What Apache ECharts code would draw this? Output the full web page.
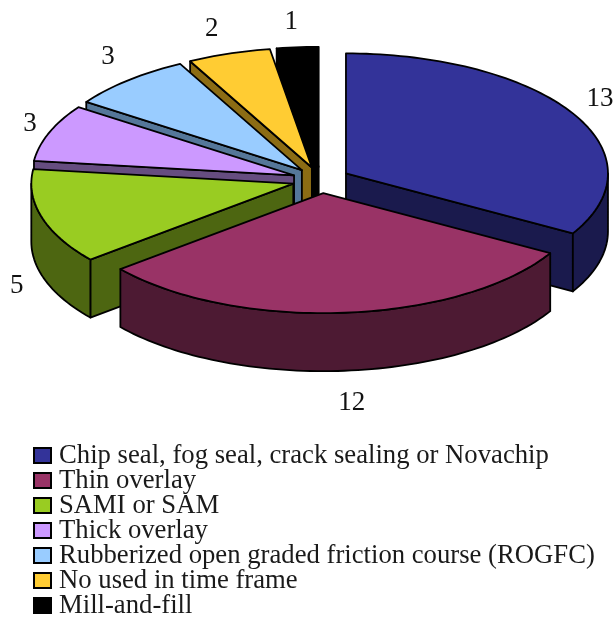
<!DOCTYPE html>
<html>
<head>
<meta charset="utf-8">
<style>html,body{margin:0;padding:0;background:#fff}#c{width:616px;height:619px;filter:blur(0.5px)}</style>
<script src="https://cdn.jsdelivr.net/npm/echarts@6/dist/echarts.min.js"></script>
</head>
<body>
<div id="c"></div>
<script>
const categories = [
  'Chip seal, fog seal, crack sealing or Novachip',
  'Thin overlay',
  'SAMI or SAM',
  'Thick overlay',
  'Rubberized open graded friction course (ROGFC)',
  'No used in time frame',
  'Mill-and-fill'
];
const values = [13, 12, 5, 3, 3, 2, 1];
const topColors = ['#333399', '#993366', '#99CC22', '#CC99FF', '#99CCFF', '#FFCC33', '#000000'];
const sideColors = ['#1A1A4D', '#4D1A33', '#4D6611', '#664D80', '#557799', '#8C6C14', '#000000'];

// 3D projection settings
const CX = 321, CY = 180, RX = 262, RY = 120, DEPTH = 58, EXPLODE = 0.11;
const LABEL_GAP_X = 29, LABEL_GAP_Y = 28, LABEL_SHIFT_Y = 2;
// small per-label layout adjustments, applied after the projected position
const LABEL_NUDGE = [[2, -2], [5, 2], [3, 1], [8, -1], [-1, -4], [-8, 0], [-4, 1]];
const FONT = '"Liberation Serif", "Times New Roman", serif';
const rad = d => d * Math.PI / 180;
const total = values.reduce((a, b) => a + b, 0);

let acc = 0;
const slices = values.map((v, i) => {
  const a0 = acc / total * 360;
  acc += v;
  const a1 = acc / total * 360;
  const mid = rad((a0 + a1) / 2);
  return {
    i, v, a0, a1, mid,
    ax: CX + RX * EXPLODE * Math.sin(mid),
    ay: CY - RY * EXPLODE * Math.cos(mid)
  };
});
const order = slices.slice().sort((p, q) => p.ay - q.ay).map(s => s.i);

function arc(s, from, to, dy) {
  const n = Math.max(2, Math.ceil((to - from) / 1.5));
  const pts = [];
  for (let k = 0; k <= n; k++) {
    const t = rad(from + (to - from) * k / n);
    pts.push([s.ax + RX * Math.sin(t), s.ay - RY * Math.cos(t) + dy]);
  }
  return pts;
}
function poly(points, fill) {
  return {
    type: 'polygon',
    shape: { points },
    style: { fill, stroke: '#000', lineWidth: 1.8, lineJoin: 'round' },
    silent: true
  };
}
function face(s, angle, fill) {
  const t = rad(angle);
  const ex = s.ax + RX * Math.sin(t), ey = s.ay - RY * Math.cos(t);
  return poly([[s.ax, s.ay], [ex, ey], [ex, ey + DEPTH], [s.ax, s.ay + DEPTH]], fill);
}
function sliceGraphic(s) {
  const side = sideColors[s.i], kids = [];
  if (Math.sin(rad(s.a0)) < -1e-6) kids.push(face(s, s.a0, side));
  if (Math.sin(rad(s.a1)) > 1e-6) kids.push(face(s, s.a1, side));
  const r0 = Math.max(s.a0, 90), r1 = Math.min(s.a1, 270);
  if (r1 > r0) {
    kids.push(poly(arc(s, r0, r1, 0).concat(arc(s, r0, r1, DEPTH).reverse()), side));
  }
  kids.push(poly([[s.ax, s.ay]].concat(arc(s, s.a0, s.a1, 0)), topColors[s.i]));
  const front = Math.cos(s.mid) < 0 ? DEPTH : 0;
  kids.push({
    type: 'text',
    silent: true,
    style: {
      x: s.ax + (RX + LABEL_GAP_X) * Math.sin(s.mid) + LABEL_NUDGE[s.i][0],
      y: s.ay - (RY + LABEL_GAP_Y) * Math.cos(s.mid) + front + LABEL_SHIFT_Y + LABEL_NUDGE[s.i][1],
      text: String(s.v),
      fill: '#111',
      font: '27px ' + FONT,
      textAlign: 'center',
      textVerticalAlign: 'middle'
    }
  });
  return { type: 'group', children: kids };
}

const series = categories.map((name, i) => ({
  type: 'custom',
  name,
  coordinateSystem: 'none',
  z: 2 + order.indexOf(i),
  itemStyle: { color: topColors[i] },
  data: [values[i]],
  renderItem: () => sliceGraphic(slices[i])
}));

const chart = echarts.init(document.getElementById('c'), null, { renderer: 'canvas' });
chart.setOption({
  animation: false,
  backgroundColor: '#fff',
  legend: {
    orient: 'vertical',
    left: 33,
    top: 442,
    height: 190,
    padding: 0,
    icon: 'rect',
    itemWidth: 17,
    itemHeight: 15,
    itemGap: -2,
    selectedMode: false,
    data: categories,
    itemStyle: { borderColor: '#000', borderWidth: 2 },
    textStyle: { fontFamily: FONT, fontSize: 26.7, color: '#1a1a1a', padding: [0, 0, 0, 3] }
  },
  series
});
</script>
</body>
</html>
